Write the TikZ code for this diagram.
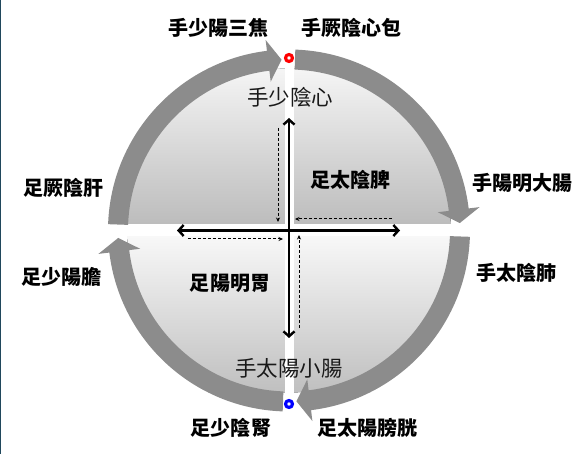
\documentclass[tikz,border=0pt]{standalone}
\usepackage{fontspec}
\newfontfamily\cjk{Noto Sans CJK TC}
\usepackage{tikz}
\usetikzlibrary{arrows.meta}
\usepackage{xcolor}
\definecolor{flowgray}{RGB}{140,140,140}
\definecolor{edgeblue}{RGB}{32,72,92}
\tikzstyle{organ}=[inner sep=0pt, font=\cjk\bfseries\fontsize{20}{20}\selectfont, text=black]
\tikzstyle{core}=[organ, font=\cjk\fontsize{21.5}{21.5}\selectfont, text=black!90]
\tikzstyle{flow}=[fill=flowgray]
\tikzstyle{joint}=[circle, fill=white, minimum size=7pt, inner sep=0pt, line width=1.1mm]
\tikzstyle{axis}=[draw, line width=.85mm, {Straight Barb[length=5pt,width=11pt]}-{Straight Barb[length=5pt,width=11pt]}, black]
\tikzstyle{hint}=[draw, line width=.35mm, densely dashed, -{Stealth[length=4.5pt,width=4pt]}, black]

\begin{document}
\begin{tikzpicture}[x=1pt, y=1pt]

	\useasboundingbox (-289,-223.5) rectangle (299,230.5);
	\fill[edgeblue] (-289,-223.5) rectangle (-287.5,230.5);

	% two halves of the disc
	\fill[top color=black!4, bottom color=black!27] (162,0) arc[start angle=0, end angle=180, radius=162] -- cycle;
	\fill[top color=black!2, bottom color=black!25] (-162,0) arc[start angle=180, end angle=360, radius=162] -- cycle;
	\fill[white] (-170,-6) rectangle (170,6.5);
	\fill[white] (-4.5,-170) rectangle (4.5,170);

	\foreach \s/\b/\t in {178/97/92.5, 88/7/2.5, -2/-83/-87.5, -92/-173/-177.5}{
		\fill[flow] (\s:181) arc[start angle=\s, end angle=\b, radius=181] -- (\b:192) -- (\t:171) -- (\b:150) -- (\b:161) arc[start angle=\b, end angle=\s, radius=161] -- cycle;
	}

	\node[joint, draw=red] (zi) at (0,172.5) {};
	\node[joint, draw=blue] (wu) at (0,-173.5) {};

	\coordinate (n) at (0,112.5);
	\coordinate (s) at (0,-107.5);
	\coordinate (w) at (-112,0);
	\coordinate (e) at (111,0);

	\draw[axis] (s) -- (n);
	\draw[axis] (w) -- (e);

	\coordinate (d_1) at (-11,102.5);
	\coordinate (d_2) at (-11,8.5);
	\coordinate (d_3) at (103,11.5);
	\coordinate (d_4) at (6,11.5);
	\coordinate (d_5) at (-101,-8.5);
	\coordinate (d_6) at (-6,-8.5);
	\coordinate (d_7) at (10,-97.5);
	\coordinate (d_8) at (10,-4.5);

	\draw[hint] (d_1) -- (d_2);
	\draw[hint] (d_3) -- (d_4);
	\draw[hint] (d_5) -- (d_6);
	\draw[hint] (d_7) -- (d_8);

	\node[organ] (sanjiao) at (-70,202.5) {手少陽三焦};
	\node[organ] (xinbao) at (62,202.5) {手厥陰心包};
	\node[core] (xin) at (1,133.5) {手少陰心};
	\node[organ] (pi) at (61,50.5) {足太陰脾};
	\node[organ] (dachang) at (233,47.5) {手陽明大腸};
	\node[organ] (gan) at (-225,42.5) {足厥陰肝};
	\node[organ] (dan) at (-227,-46.5) {足少陽膽};
	\node[organ] (wei) at (-59,-52.5) {足陽明胃};
	\node[organ] (fei) at (227,-42.5) {手太陰肺};
	\node[core] (xiaochang) at (0,-137.5) {手太陽小腸};
	\node[organ] (shen) at (-58,-197.5) {足少陰腎};
	\node[organ] (pangguang) at (78,-197.5) {足太陽膀胱};
\end{tikzpicture}
\end{document}
